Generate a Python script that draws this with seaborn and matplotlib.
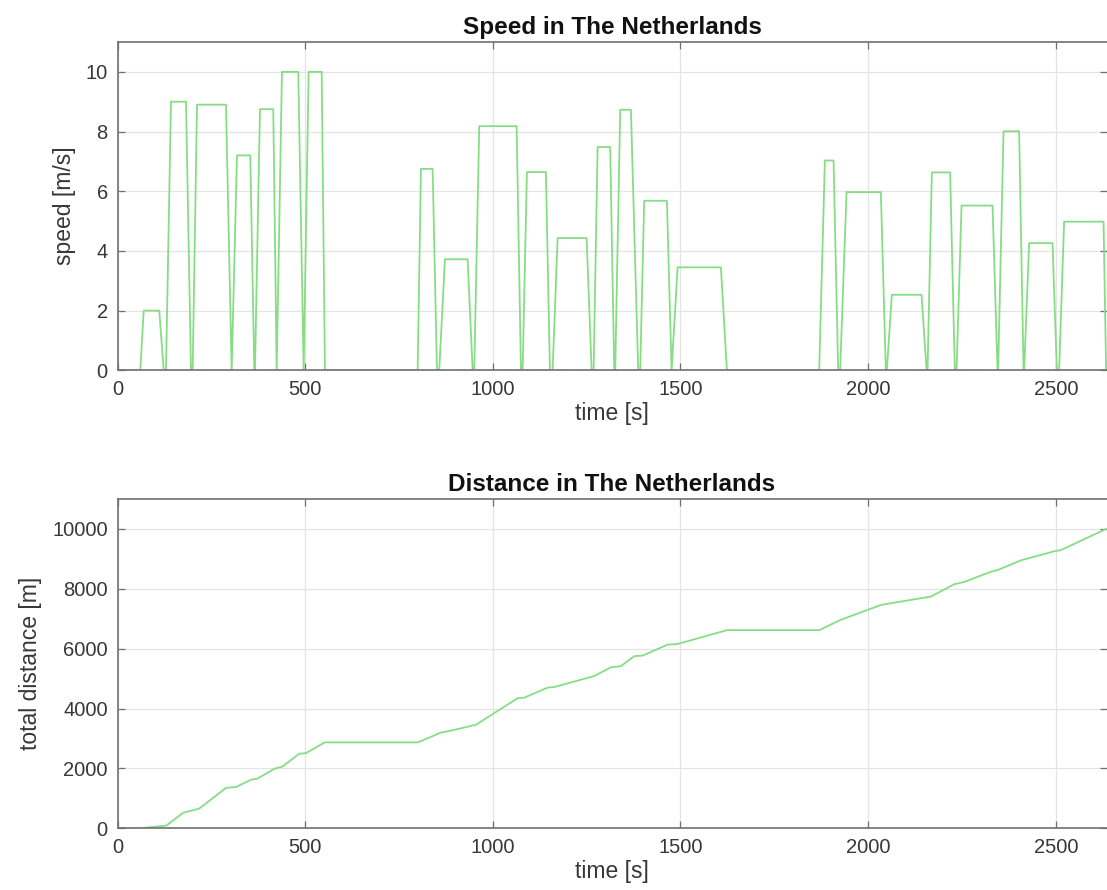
import numpy as np
import pandas as pd
import matplotlib
matplotlib.use("Agg")
import matplotlib.pyplot as plt
import seaborn as sns

# ---- Speed profile: trapezoidal segments (times in s, speed in m/s) ----
seg_start     = [60.7, 129.2, 200.3, 304.2, 366.3, 424.1, 496.0, 799.7, 857.2, 950.5, 1079.4, 1159.3,
                 1268.5, 1326.1, 1392.6, 1476.3, 1869.5, 1925.4, 2049.8, 2158.2, 2235.5, 2346.3, 2415.6, 2508.8]
seg_top_start = [69.8, 142.5, 211.8, 318.3, 379.6, 438.2, 509.3, 808.5, 872.4, 963.8, 1090.8, 1172.6,
                 1279.2, 1339.4, 1403.3, 1492.3, 1884.7, 1942.4, 2063.1, 2169.7, 2248.8, 2360.7, 2428.9, 2522.1]
seg_top_end   = [111.3, 182.5, 289.0, 353.8, 415.0, 481.6, 544.0, 839.6, 932.9, 1063.4, 1141.4, 1249.9,
                 1312.7, 1367.9, 1463.8, 1607.6, 1907.8, 2033.8, 2142.2, 2218.4, 2331.4, 2402.2, 2491.2, 2627.1]
seg_end       = [123.1, 195.8, 304.2, 364.4, 424.1, 496.0, 552.7, 851.1, 946.2, 1074.9, 1152.1, 1263.2,
                 1323.4, 1387.3, 1476.3, 1623.6, 1920.1, 2047.1, 2155.6, 2230.9, 2344.7, 2414.0, 2502.7, 2634.0]
seg_speed     = [2.0, 9.0, 8.9, 7.2, 8.75, 10.0, 10.0, 6.75, 3.72, 8.18, 6.64, 4.43,
                 7.48, 8.73, 5.68, 3.45, 7.03, 5.97, 2.53, 6.63, 5.52, 8.01, 4.26, 4.98]
t_start, t_end = 0.0, 2634.0

# ---- Cumulative distance ----
dist_time = [0, 60, 130, 175, 196, 218, 289, 316, 356, 373, 418, 440, 484, 502, 552,
             800, 862, 888, 955, 1066, 1084, 1146, 1164, 1270, 1315, 1341, 1377, 1399, 1466, 1492,
             1624, 1870, 1927, 2034, 2061, 2167, 2229, 2256, 2327, 2345, 2407, 2496, 2513, 2634]
dist_m    = [0, 0, 90, 520, 585, 660, 1350, 1380, 1625, 1660, 1990, 2066, 2490, 2510, 2870,
             2870, 3200, 3260, 3460, 4345, 4365, 4700, 4720, 5085, 5380, 5415, 5750, 5770, 6135, 6155,
             6620, 6620, 6965, 7460, 7520, 7740, 8150, 8230, 8570, 8625, 8950, 9255, 9290, 10000]

# Build the speed polyline from the segments
st, sv = [t_start], [0.0]
for a, b, c, d, v in zip(seg_start, seg_top_start, seg_top_end, seg_end, seg_speed):
    st += [a, b, c, d]
    sv += [0.0, v, v, 0.0]
st.append(t_end); sv.append(0.0)
speed_df = pd.DataFrame({"time": st, "speed": sv})
dist_df = pd.DataFrame({"time": dist_time, "distance": dist_m})

sns.set_theme(style="whitegrid")
plt.rcParams["font.family"] = ["Liberation Sans", "DejaVu Sans"]

W, H = 1107, 890
fig = plt.figure(figsize=(W / 100, H / 100), dpi=100)
fig.patch.set_facecolor("white")

left = 117.5 / W
right = 1106.5 / W
ax1 = fig.add_axes([left, (H - 370.3) / H, right - left, (370.3 - 42.0) / H])
ax2 = fig.add_axes([left, (H - 828.3) / H, right - left, (828.3 - 499.0) / H])

line_color = "#86dd86"
sns.lineplot(data=speed_df, x="time", y="speed", ax=ax1, color=line_color,
             linewidth=1.3, estimator=None, sort=False)
sns.lineplot(data=dist_df, x="time", y="distance", ax=ax2, color=line_color,
             linewidth=1.3, estimator=None, sort=False)

xticks = [0, 500, 1000, 1500, 2000, 2500]
for ax, yt, ylim, ylab, title in [
    (ax1, [0, 2, 4, 6, 8, 10], (0, 11), "speed [m/s]", "Speed in The Netherlands"),
    (ax2, [0, 2000, 4000, 6000, 8000, 10000], (0, 11000), "total distance [m]", "Distance in The Netherlands"),
]:
    ax.set_facecolor("white")
    ax.set_xlim(0, 2635)
    ax.set_ylim(*ylim)
    ax.set_xticks(xticks)
    ax.set_yticks(yt)
    ax.grid(True, color="#e4e4e4", linewidth=0.9)
    for name, s in ax.spines.items():
        s.set_visible(name != "right")
        s.set_color("#707070")
        s.set_linewidth(1.2)
    ax.tick_params(axis="both", which="both", direction="in", length=5, width=0.9,
                   colors="#707070", labelcolor="#383838", labelsize=14.5,
                   top=True, right=True, bottom=True, left=True, pad=7)
    ax.set_xlabel("time [s]", fontsize=16.5, color="#383838", labelpad=2)
    ax.set_ylabel(ylab, fontsize=16.5, color="#383838", labelpad=7)
    ax.set_title(title, fontsize=17.5, fontweight="bold", color="#111111", pad=6)

fig.savefig("out.png", dpi=100, facecolor="white")
